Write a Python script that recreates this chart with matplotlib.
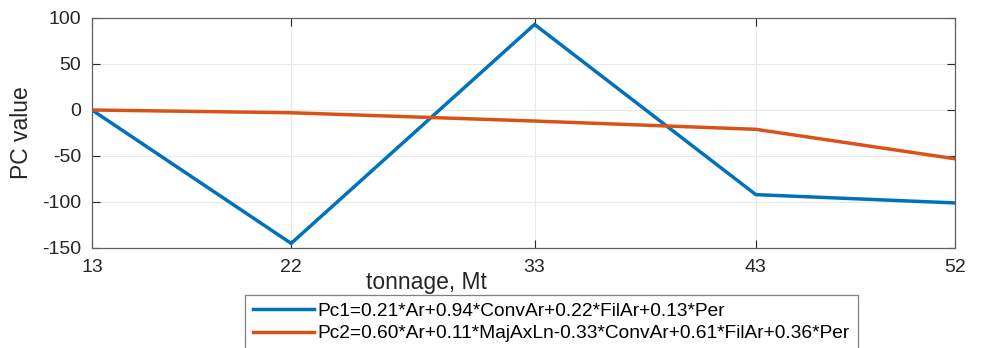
import matplotlib
matplotlib.use("Agg")
import matplotlib.pyplot as plt

tonnage = [13, 22, 33, 43, 52]
pc1 = [0, -145, 93, -92, -101]
pc2 = [0, -3, -12, -21, -53]
labels = ["Pc1=0.21*Ar+0.94*ConvAr+0.22*FilAr+0.13*Per",
          "Pc2=0.60*Ar+0.11*MajAxLn-0.33*ConvAr+0.61*FilAr+0.36*Per"]
yticks = [-150, -100, -50, 0, 50, 100]

plt.rcParams['font.family'] = ['Liberation Sans', 'DejaVu Sans']
plt.rcParams['axes.unicode_minus'] = False

W, H = 983, 348
fig = plt.figure(figsize=(W/100, H/100), dpi=100)
ax = fig.add_axes([92/W, 1-248/H, (955-92)/W, (248-18)/H])

l1, = ax.plot(tonnage, pc1, color='#0072BD', lw=2.5, solid_joinstyle='miter')
l2, = ax.plot(tonnage, pc2, color='#D95319', lw=2.5, solid_joinstyle='miter')

ax.set_xlim(13, 52)
ax.set_ylim(-150, 100)
ax.set_xticks(tonnage)
ax.set_yticks(yticks)
ax.tick_params(direction='in', length=6, width=0.8, colors='#262626',
               labelsize=14, top=True, right=True, pad=8)
ax.grid(True, color='#e8e8e8', lw=0.8)
ax.set_axisbelow(True)
for s in ax.spines.values():
    s.set_color('#606060')
    s.set_linewidth(0.9)

fig.text(22/W, 1-133/H, "PC value", fontsize=16.5, color='#262626',
         ha='center', va='center', rotation=90)
fig.text(426/W, 1-283/H, "tonnage, Mt", fontsize=16.5, color='#262626',
         ha='center', va='center')

leg = fig.legend([l1, l2], labels, loc='upper left',
                 bbox_to_anchor=(245/W, 1-295/H), fontsize=13.8,
                 frameon=True, fancybox=False, edgecolor='#606060',
                 handlelength=3.2, handletextpad=0.2, borderpad=0.4,
                 labelspacing=0.25, borderaxespad=0)
leg.get_frame().set_linewidth(0.9)

fig.savefig("out.png", dpi=100)
